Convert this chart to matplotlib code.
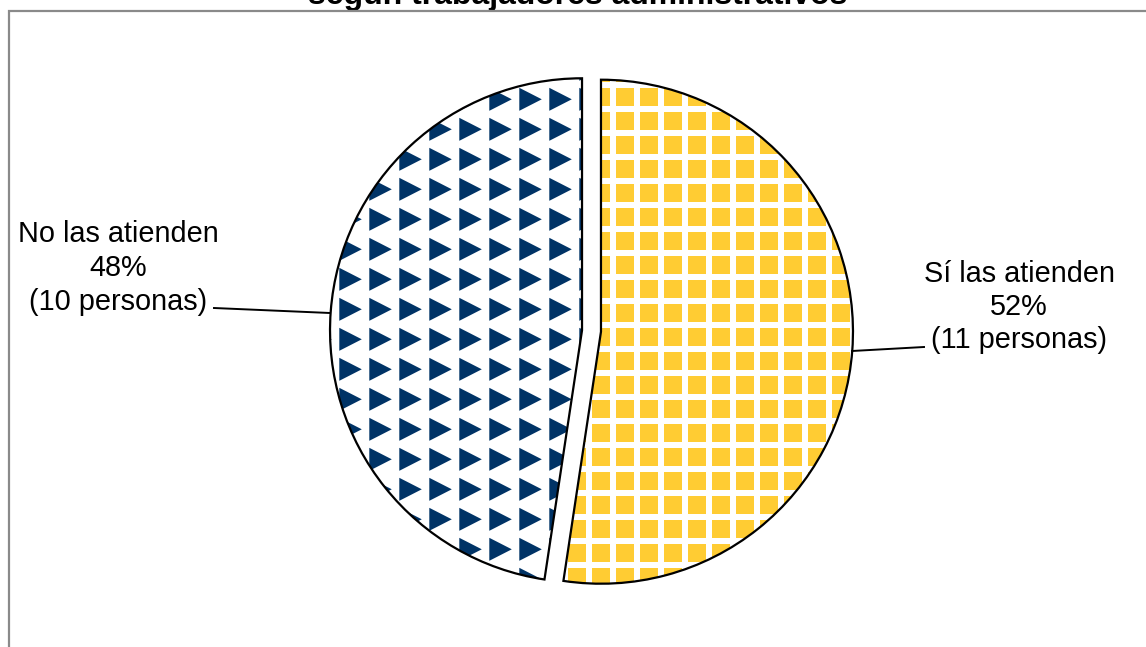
import numpy as np
import matplotlib
matplotlib.use("Agg")
import matplotlib.pyplot as plt
from matplotlib.patches import Polygon, Rectangle
from matplotlib.collections import PatchCollection

# Survey answers (number of people)
categories = ["Sí las atienden", "No las atienden"]
counts = [11, 10]
title_line = "según trabajadores administrativos"

W, H = 1146, 647
DPI = 100

YELLOW = "#FFCC33"
NAVY = "#003366"
FRAME = "#8a8a8a"
FONT = "Liberation Sans"


def py(y):
    """Convert a top-down pixel row into the axes' y coordinate."""
    return H - y


fig = plt.figure(figsize=(W / DPI, H / DPI), dpi=DPI)
ax = fig.add_axes([0, 0, 1, 1])

total = sum(counts)
pcts = [round(100 * c / total) for c in counts]

# explode is given in data units (pixels here)
wedges, _ = ax.pie(
    counts,
    startangle=90,
    counterclock=False,
    center=(591.5, py(331)),
    radius=252,
    explode=[9.5, 9.5],
    colors=["none", "none"],
    wedgeprops=dict(edgecolor="black", linewidth=1.6, zorder=3),
)

# Yellow slice: gold squares separated by a white grid
squares = []
pitch, side = 24.0, 18.5
for gx in np.arange(15.7 - pitch, W, pitch):
    for gy in np.arange(15.7 - pitch, H, pitch):
        squares.append(Rectangle((gx, py(gy + side)), side, side))
sq = PatchCollection(squares, facecolor=YELLOW, edgecolor="none", zorder=2)
ax.add_collection(sq)
sq.set_clip_path(wedges[0])

# Navy slice: rows of right-pointing triangles on white
tris = []
tp, tw, th = 30.0, 22.5, 23.0
for gx in np.arange(9.3 - tp, W, tp):
    for gy in np.arange(27.8 - tp, H, tp):
        tris.append(Polygon([(gx, py(gy)), (gx, py(gy + th)), (gx + tw, py(gy + th / 2))],
                            closed=True))
tc = PatchCollection(tris, facecolor=NAVY, edgecolor="none", zorder=2)
ax.add_collection(tc)
tc.set_clip_path(wedges[1])

# Data labels with leader lines
label_style = dict(fontsize=20.8, family=FONT, color="black", ha="center", va="baseline")
right_lines = [categories[0], f"{pcts[0]}%", f"({counts[0]} personas)"]
left_lines = [categories[1], f"{pcts[1]}%", f"({counts[1]} personas)"]
for txt, yb in zip(right_lines, [282, 315, 348]):
    ax.text(1019, py(yb), txt, **label_style)
for txt, yb in zip(left_lines, [242, 276.5, 310]):
    ax.text(118, py(yb), txt, **label_style)

ax.plot([852, 924], [py(351), py(347)], color="black", lw=1.4, zorder=4)
ax.plot([214, 330], [py(308), py(313)], color="black", lw=1.4, zorder=4)

# Chart title (second line) and chart-area frame
ax.text(578, py(4), title_line, fontsize=23, fontweight="bold", family=FONT,
        ha="center", va="baseline", color="black")
ax.plot([9, 9, W + 5], [-5, py(11), py(11)], color=FRAME, lw=1.6, zorder=5,
        solid_joinstyle="miter")

ax.set_xlim(0, W)
ax.set_ylim(0, H)
ax.set_axis_off()

fig.savefig("out.png", dpi=DPI, facecolor="white")
